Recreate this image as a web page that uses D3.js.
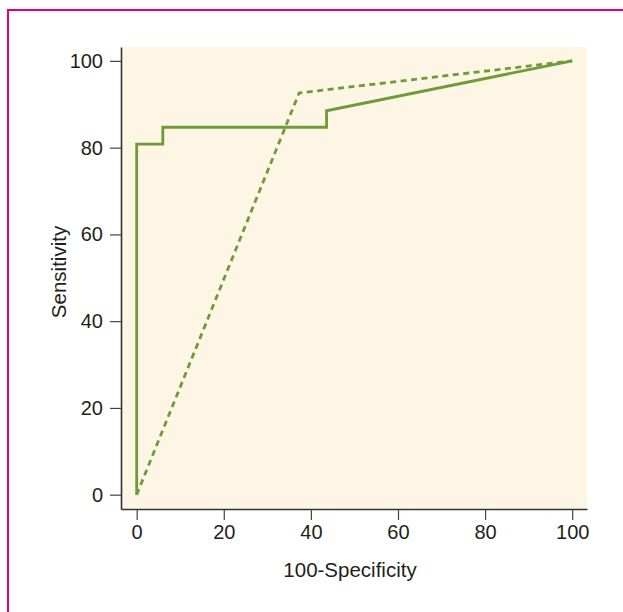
<!DOCTYPE html>
<html>
<head>
<meta charset="utf-8">
<script src="https://cdn.jsdelivr.net/npm/d3@7"></script>
<style>
  html, body { margin: 0; padding: 0; background: #fff; }
  svg { display: block; }
  text { font-family: "Liberation Sans", Arial, Helvetica, sans-serif; fill: #231f20; }
</style>
</head>
<body>
<svg id="chart" width="623" height="612"></svg>
<script>
// Data
const solidX = [0, 0, 6, 6, 43.6, 43.6, 100];
const solidY = [0, 80.8, 80.8, 84.7, 84.7, 88.5, 100];
const dashedX = [0, 37.3, 100];
const dashedY = [0, 92.6, 100];
const xTicks = [0, 20, 40, 60, 80, 100];
const yTicks = [0, 20, 40, 60, 80, 100];
const xTitle = "100-Specificity";
const yTitle = "Sensitivity";

const svg = d3.select("#chart");
const lineColor = "#6f9a3a";

// frame
svg.append("rect")
  .attr("x", 8).attr("y", 10)
  .attr("width", 700).attr("height", 700)
  .attr("fill", "none").attr("stroke", "#e2007a").attr("stroke-width", 2);

const x = d3.scaleLinear().domain([-3.6, 103.4]).range([121, 587]);
const y = d3.scaleLinear().domain([-3.3, 103.2]).range([509, 47]);

// background
svg.append("rect")
  .attr("x", x.range()[0]).attr("y", y.range()[1])
  .attr("width", x.range()[1] - x.range()[0])
  .attr("height", y.range()[0] - y.range()[1])
  .attr("fill", "#fdf6e4");

const fontSize = "20px";

const xAxis = svg.append("g")
  .attr("transform", `translate(0,${y.range()[0]})`)
  .call(d3.axisBottom(x).tickValues(xTicks).tickSize(11).tickSizeOuter(0).tickPadding(5));
const yAxis = svg.append("g")
  .attr("transform", `translate(${x.range()[0]},0)`)
  .call(d3.axisLeft(y).tickValues(yTicks).tickSize(11).tickSizeOuter(0).tickPadding(7));

[xAxis, yAxis].forEach(g => {
  g.select(".domain").attr("stroke", "#333").attr("stroke-width", 1.6);
  g.selectAll(".tick line").attr("stroke", "#444").attr("stroke-width", 1.2);
  g.selectAll(".tick text").attr("font-size", fontSize)
    .attr("font-family", "'Liberation Sans', Arial, sans-serif").attr("fill", "#1a1a1a");
});

// lines
const line = d3.line().x(d => x(d[0])).y(d => y(d[1])).curve(d3.curveLinear);
const solid = solidX.map((v, i) => [v, solidY[i]]);
const dashed = dashedX.map((v, i) => [v, dashedY[i]]);

svg.append("path").datum(dashed)
  .attr("d", line).attr("fill", "none")
  .attr("stroke", lineColor).attr("stroke-width", 2.8)
  .attr("stroke-dasharray", "6,4.5");

svg.append("path").datum(solid)
  .attr("d", line).attr("fill", "none")
  .attr("stroke", lineColor).attr("stroke-width", 2.8)
  .attr("stroke-linejoin", "miter");

// titles
svg.append("text")
  .attr("x", 350).attr("y", 577)
  .attr("text-anchor", "middle").attr("font-size", "20.5px").attr("fill", "#1a1a1a")
  .text(xTitle);

svg.append("text")
  .attr("transform", "translate(66,272) rotate(-90)")
  .attr("text-anchor", "middle").attr("font-size", "20.5px").attr("fill", "#1a1a1a")
  .text(yTitle);
</script>
</body>
</html>
